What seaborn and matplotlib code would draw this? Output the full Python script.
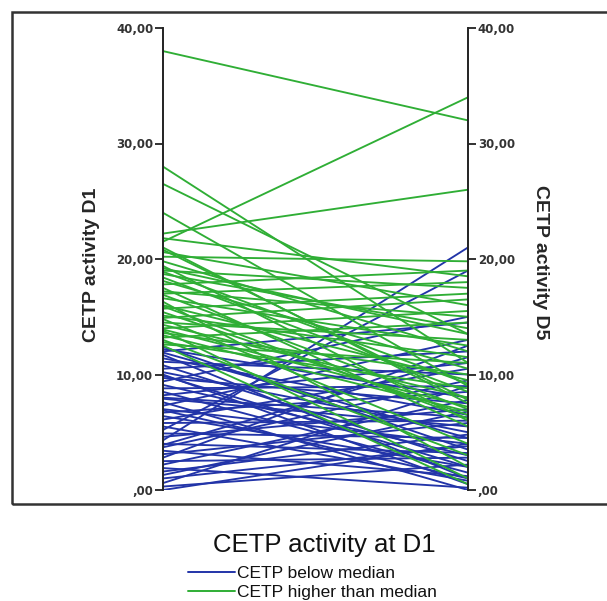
import matplotlib
matplotlib.use("Agg")
import matplotlib.pyplot as plt
from matplotlib.lines import Line2D
from matplotlib.patches import Rectangle
import numpy as np
import pandas as pd
import seaborn as sns

# CETP activity per patient on day 1 and day 5, split by the day-1 median
blue_d1 = [12.4, 12.2, 12.0, 11.7, 11.4, 11.1, 10.8, 10.5, 10.2, 10.0, 9.7, 9.4,
           9.1, 8.8, 8.5, 8.2, 7.9, 7.6, 7.3, 7.0, 6.7, 6.4, 6.1, 5.8, 5.5, 5.2,
           4.9, 4.6, 4.3, 4.0, 3.7, 3.4, 3.1, 2.8, 2.5, 2.2, 1.9, 1.6, 1.3, 1.0,
           0.6, 0.3, 0.0, 11.9, 9.9, 8.0, 6.9, 3.9]
blue_d5 = [3.5, 8.0, 14.5, 1.0, 6.5, 10.0, 2.5, 12.0, 5.0, 0.5, 7.5, 15.0,
           3.0, 9.0, 1.5, 11.0, 5.5, 0.0, 13.0, 4.0, 8.5, 2.0, 10.5, 6.0, 0.8, 19.0,
           4.5, 7.0, 21.0, 3.2, 9.5, 1.2, 5.8, 12.5, 2.8, 7.8, 0.2, 4.8, 6.8, 3.8,
           9.0, 2.2, 4.0, 4.5, 2.0, 6.3, 1.0, 11.5]

green_d1 = [38.0, 28.0, 26.5, 24.0, 22.2, 21.5, 21.8, 21.0, 20.6, 20.2, 19.8, 19.4,
            19.0, 18.7, 18.4, 18.1, 17.8, 17.5, 17.2, 16.9, 16.6, 16.3, 16.0, 15.7,
            15.4, 15.1, 14.8, 14.5, 14.3, 14.0, 13.8, 13.6, 13.4, 13.2, 13.0, 12.8,
            12.6, 12.5, 17.0, 15.9, 18.9, 20.8, 14.9, 13.9, 19.2]
green_d5 = [32.0, 11.0, 13.5, 9.0, 26.0, 34.0, 18.5, 7.5, 16.0, 19.8, 12.0, 6.0,
            17.5, 14.0, 8.5, 10.5, 19.0, 5.5, 15.0, 7.0, 12.5, 2.0, 9.5, 17.0,
            6.5, 11.5, 4.0, 13.0, 8.0, 15.5, 1.0, 10.0, 6.8, 14.5, 3.0, 8.8,
            11.0, 0.5, 18.0, 6.2, 9.2, 7.8, 16.5, 7.2, 13.5]

group_labels = ["CETP below median", "CETP higher than median"]
legend_title = "CETP activity at D1"
y_ticks = [0, 10, 20, 30, 40]
y_ticklabels = [",00", "10,00", "20,00", "30,00", "40,00"]

rows = []
sid = 0
for d1s, d5s, grp in [(blue_d1, blue_d5, group_labels[0]),
                      (green_d1, green_d5, group_labels[1])]:
    for a, b in zip(d1s, d5s):
        rows.append({"subject": sid, "day": 0, "value": a, "group": grp})
        rows.append({"subject": sid, "day": 1, "value": b, "group": grp})
        sid += 1
df = pd.DataFrame(rows)

palette = {group_labels[0]: "#2234a8", group_labels[1]: "#2fae35"}

sns.set_style("white")
W, H = 607, 601
fig = plt.figure(figsize=(W / 100, H / 100), dpi=100)

x_left, x_right, y_top, y_bot = 163, 468, 28, 490
ax = fig.add_axes([x_left / W, 1 - y_bot / H, (x_right - x_left) / W, (y_bot - y_top) / H])

sns.lineplot(data=df, x="day", y="value", hue="group", units="subject",
             estimator=None, palette=palette, hue_order=group_labels,
             linewidth=1.35, legend=False, ax=ax)

ax.set_xlim(0, 1)
ax.set_ylim(0, 40)
ax.set_xlabel("")
ax.set_ylabel("")
ax.set_xticks([])
ax.set_yticks(y_ticks)
ax.set_yticklabels(y_ticklabels)
for s in ["top", "bottom"]:
    ax.spines[s].set_visible(False)
for s in ["left", "right"]:
    ax.spines[s].set_visible(True)
    ax.spines[s].set_color("#222222")
    ax.spines[s].set_linewidth(1.4)
ax.tick_params(axis="y", which="both", left=True, right=True, labelleft=True,
               labelright=True, direction="out", length=6, width=1.3,
               color="#222222", labelsize=8.5, labelcolor="#333333", pad=1)
for lbl in ax.get_yticklabels():
    lbl.set_fontweight("bold")
ax.patch.set_alpha(0)

fig.text(92 / W, 1 - 265 / H, "CETP activity D1", rotation=90, ha="center", va="center",
         fontsize=14, fontweight="bold", family="Liberation Sans")
fig.text(540 / W, 1 - 262 / H, "CETP activity D5", rotation=270, ha="center", va="center",
         fontsize=14, fontweight="bold", family="Liberation Sans")

# outer frame, open on the right edge
fig.add_artist(Rectangle((12 / W, 1 - 504 / H), 620 / W, 492 / H, transform=fig.transFigure,
                         fill=False, edgecolor="#333333", linewidth=1.8))

fig.text(213 / W, 1 - 545 / H, legend_title, ha="left", va="center",
         fontsize=18.5, family="Liberation Sans", color="#111111")
handles = [Line2D([], [], color=palette[g], lw=1.4) for g in group_labels]
leg = fig.legend(handles, group_labels, loc="upper left",
                 bbox_to_anchor=(188 / W, 1 - 566 / H), frameon=False,
                 prop={"family": "Liberation Sans", "size": 12.5},
                 handlelength=2.7, handletextpad=0.1, labelspacing=0.22,
                 borderpad=0, borderaxespad=0)
for t in leg.get_texts():
    t.set_color("#111111")

fig.savefig("out.png", dpi=100)
